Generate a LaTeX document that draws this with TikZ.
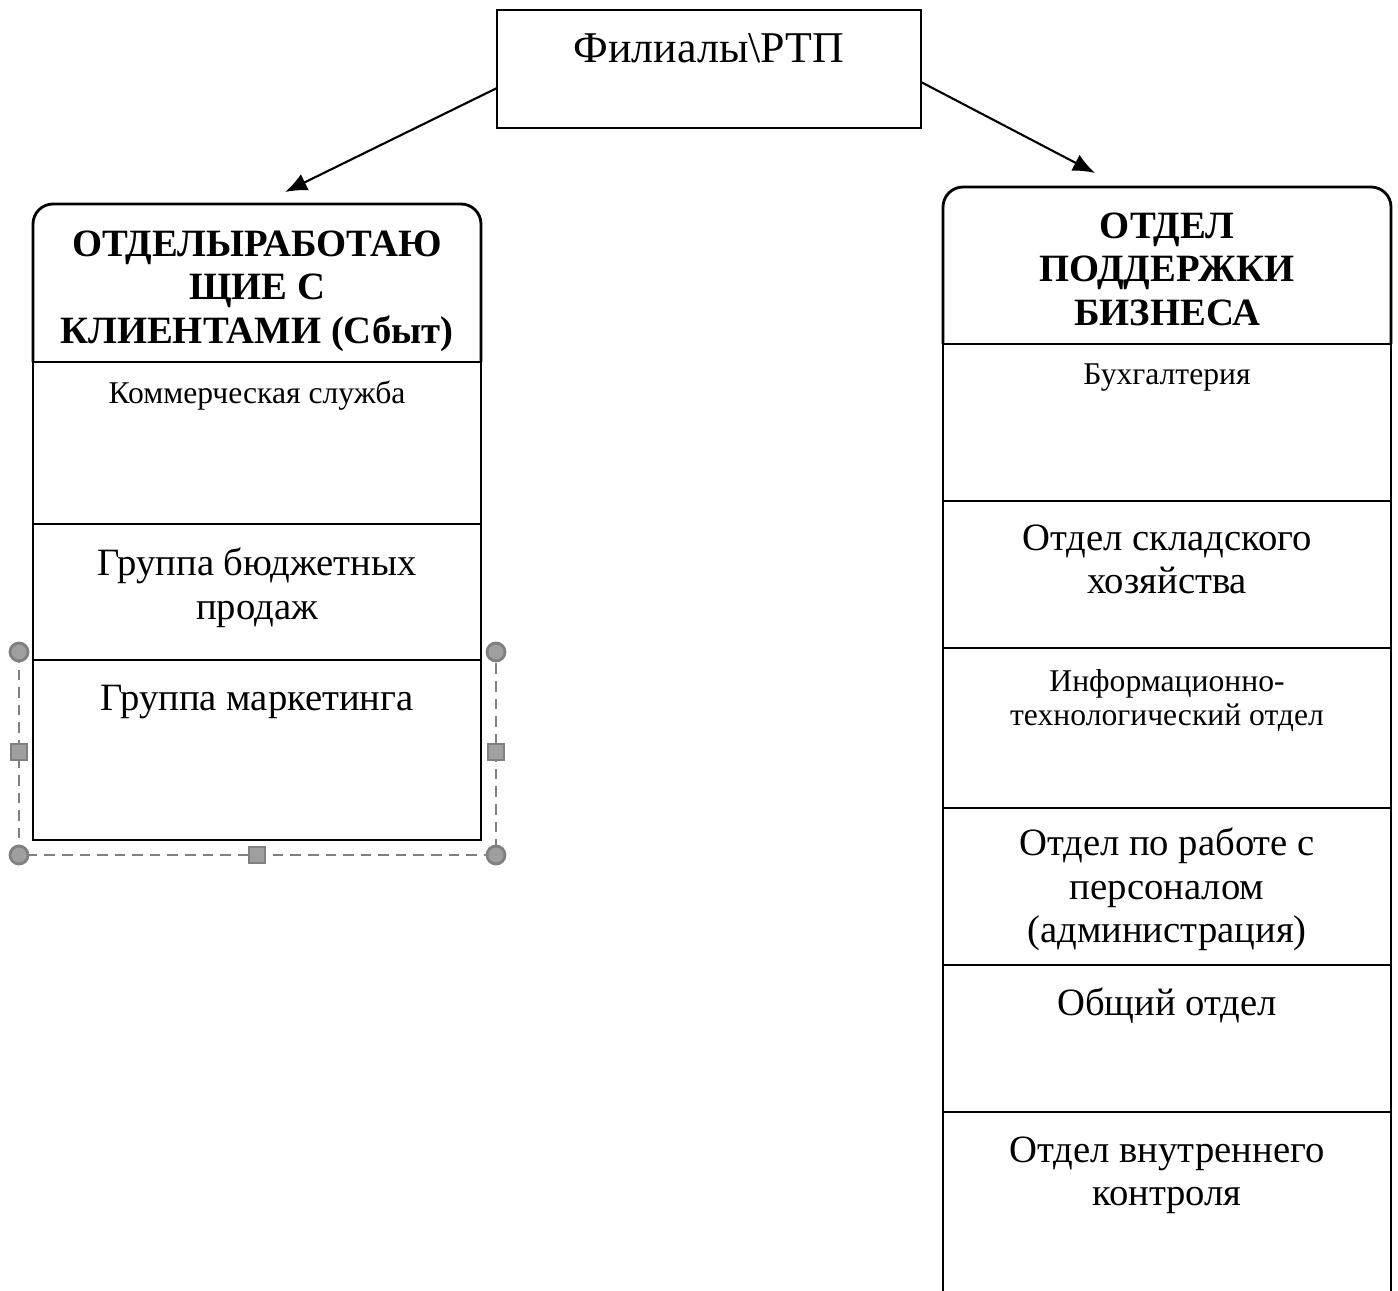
\documentclass[tikz,border=0pt]{standalone}
\usepackage{fontspec}
\setmainfont{Liberation Serif}
\usetikzlibrary{positioning,arrows.meta}

\begin{document}
\begin{tikzpicture}[
>={Latex[length=2.2mm,width=1.8mm]},
thick,
node distance=0pt,
box/.style={rectangle, draw=black, minimum width=4.48cm, inner sep=0pt, outer sep=0pt},
hdrbox/.style={rectangle, minimum width=4.48cm, inner sep=0pt, outer sep=0pt},
hdrtxt/.style={inner sep=0pt, align=center, font=\bfseries\fontsize{11}{12.5}\selectfont},
txt/.style={inner sep=0pt, align=center, font=\fontsize{11}{12.5}\selectfont},
smalltxt/.style={inner sep=0pt, align=center, font=\fontsize{9}{9.7}\selectfont},
handle/.style={fill=gray!75, draw=gray},
]
  \useasboundingbox (0,0) rectangle (13.98,-12.90);
  \clip (0,0) rectangle (13.98,-12.90);

  \node (filial) [box, minimum width=4.24cm, minimum height=1.18cm] at (7.09,-0.69) {};
  \node (filialT) [txt, font=\fontsize{12.5}{13}\selectfont, below=0.22cm of filial.north] {Филиалы\textbackslash РТП};

  % left column
  \node (hdrL) [hdrbox, minimum height=1.58cm] at (2.57,-2.83) {};
  \draw[rounded corners=0.2cm] (hdrL.south west) -- (hdrL.north west) -- (hdrL.north east) -- (hdrL.south east);
  \node (hdrLT) [hdrtxt, below=0.25cm of hdrL.north] {ОТДЕЛЫРАБОТАЮ\\ЩИЕ С\\КЛИЕНТАМИ (Сбыт)};
  \node (komm) [box, minimum height=1.62cm, below=of hdrL] {};
  \node (budzh) [box, minimum height=1.36cm, below=of komm] {};
  \node (grpMark) [box, minimum height=1.80cm, below=of budzh] {};
  \node (kommT) [smalltxt, below=0.17cm of komm.north] {Коммерческая служба};
  \node (budzhT) [txt, below=0.22cm of budzh.north] {Группа бюджетных\\продаж};
  \node (grpMarkT) [txt, below=0.24cm of grpMark.north] {Группа маркетинга};

  % right column
  \node (hdrR) [hdrbox, minimum height=1.57cm] at (11.67,-2.655) {};
  \draw[rounded corners=0.2cm] (hdrR.south west) -- (hdrR.north west) -- (hdrR.north east) -- (hdrR.south east);
  \node (hdrRT) [hdrtxt, below=0.24cm of hdrR.north] {ОТДЕЛ\\ПОДДЕРЖКИ\\БИЗНЕСА};
  \node (buh) [box, minimum height=1.57cm, below=of hdrR] {};
  \node (sklad) [box, minimum height=1.47cm, below=of buh] {};
  \node (itOtd) [box, minimum height=1.60cm, below=of sklad] {};
  \node (pers) [box, minimum height=1.57cm, below=of itOtd] {};
  \node (obsh) [box, minimum height=1.47cm, below=of pers] {};
  \node (vnutr) [box, minimum height=1.90cm, below=of obsh] {};
  \node (buhT) [smalltxt, below=0.18cm of buh.north] {Бухгалтерия};
  \node (skladT) [txt, below=0.22cm of sklad.north] {Отдел складского\\хозяйства};
  \node (itOtdT) [smalltxt, below=0.20cm of itOtd.north] {Информационно-\\технологический отдел};
  \node (persT) [txt, below=0.18cm of pers.north] {Отдел по работе с\\персоналом\\(администрация)};
  \node (obshT) [txt, below=0.21cm of obsh.north] {Общий отдел};
  \node (vnutrT) [txt, below=0.23cm of vnutr.north] {Отдел внутреннего\\контроля};

  \coordinate (tipL) at (2.85,-1.92);
  \coordinate (tipR) at (10.95,-1.73);
  \draw[->, semithick] ([yshift=-0.19cm]filial.west) -- (tipL);
  \draw[->, semithick] ([yshift=-0.13cm]filial.east) -- (tipR);

  % selection frame round the last left box
  \draw[gray, densely dashed, thin] (0.19,-6.52) -- (0.19,-8.55) -- (4.96,-8.55) -- (4.96,-6.52);
  \foreach \p in {(0.19,-6.52),(4.96,-6.52),(0.19,-8.55),(4.96,-8.55)}
    \fill[handle] \p circle (0.09);
  \foreach \p in {(0.19,-7.52),(4.96,-7.52),(2.57,-8.55)}
    \filldraw[handle] \p ++(-0.08,-0.08) rectangle ++(0.16,0.16);
\end{tikzpicture}
\end{document}
